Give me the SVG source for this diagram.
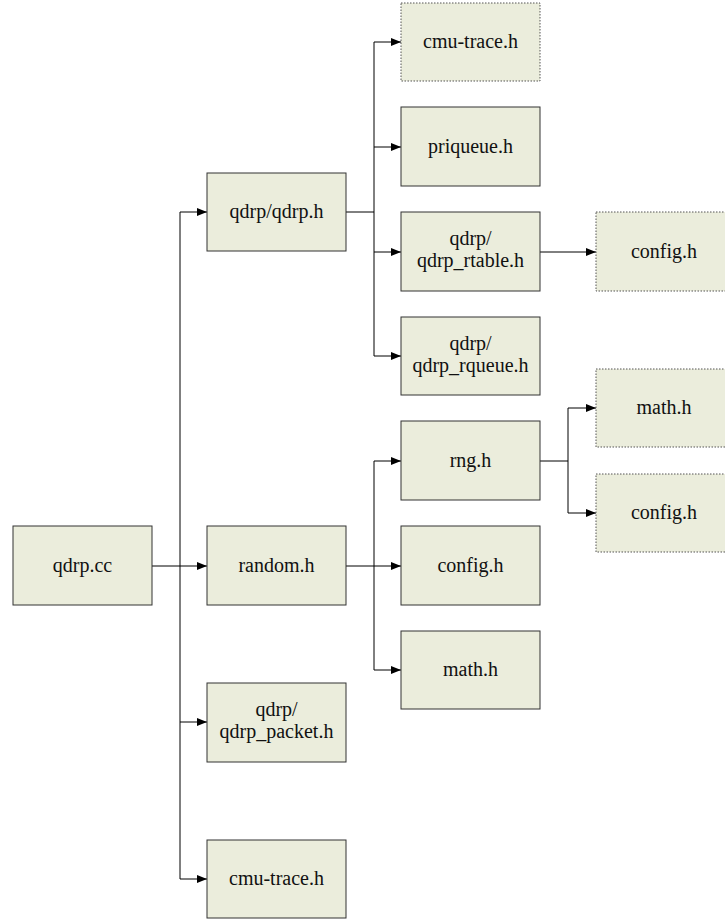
<svg xmlns="http://www.w3.org/2000/svg" width="725" height="919" viewBox="0 0 725 919">
<style>
.b{fill:#EBEDDC;stroke:#333;stroke-width:1}
.d{fill:#EBEDDC;stroke:#555;stroke-width:1;stroke-dasharray:1.5,1.5}
.t{font-family:'Liberation Serif','DejaVu Serif',serif;font-size:20px;fill:#111;text-anchor:middle}
.c{fill:none;stroke:#000;stroke-width:1}
</style>
<defs>
<marker id="a" markerWidth="10" markerHeight="8" refX="10" refY="4" orient="auto" markerUnits="userSpaceOnUse">
<path d="M0,0 L10,4 L0,8 Z" fill="#000"/>
</marker>
</defs>
<rect width="725" height="919" fill="#fff"/>
<g id="connectors">
<path class="c" d="M152,566 H207" marker-end="url(#a)"/>
<path class="c" d="M180,212 V879"/>
<path class="c" d="M180,212 H207" marker-end="url(#a)"/>
<path class="c" d="M180,722 H207" marker-end="url(#a)"/>
<path class="c" d="M180,879 H207" marker-end="url(#a)"/>
<path class="c" d="M346,212 H374"/>
<path class="c" d="M374,42 V356"/>
<path class="c" d="M374,42 H401" marker-end="url(#a)"/>
<path class="c" d="M374,147 H401" marker-end="url(#a)"/>
<path class="c" d="M374,252 H401" marker-end="url(#a)"/>
<path class="c" d="M374,356 H401" marker-end="url(#a)"/>
<path class="c" d="M346,566 H401" marker-end="url(#a)"/>
<path class="c" d="M374,461 V670"/>
<path class="c" d="M374,461 H401" marker-end="url(#a)"/>
<path class="c" d="M374,670 H401" marker-end="url(#a)"/>
<path class="c" d="M540,252 H596" marker-end="url(#a)"/>
<path class="c" d="M540,461 H568"/>
<path class="c" d="M568,408 V513"/>
<path class="c" d="M568,408 H596" marker-end="url(#a)"/>
<path class="c" d="M568,513 H596" marker-end="url(#a)"/>
</g>
<g class="t">
<g id="qdrp_cc"><rect class="b" x="13" y="526" width="139" height="79"/><text x="82.5" y="572">qdrp.cc</text></g>
<g id="qdrp_h"><rect class="b" x="207" y="173" width="139" height="78"/><text x="276.5" y="218">qdrp/qdrp.h</text></g>
<g id="random_h"><rect class="b" x="207" y="526" width="139" height="79"/><text x="276.5" y="572">random.h</text></g>
<g id="qdrp_packet_h"><rect class="b" x="207" y="683" width="139" height="79"/><text x="276.5" y="716">qdrp/</text><text x="276.5" y="738">qdrp_packet.h</text></g>
<g id="cmu_trace_h1"><rect class="b" x="207" y="840" width="139" height="78"/><text x="276.5" y="885">cmu-trace.h</text></g>
<g id="cmu_trace_h2"><rect class="d" x="401" y="3" width="139" height="78"/><text x="470.5" y="48">cmu-trace.h</text></g>
<g id="priqueue_h"><rect class="b" x="401" y="107" width="139" height="79"/><text x="470.5" y="153">priqueue.h</text></g>
<g id="qdrp_rtable_h"><rect class="b" x="401" y="212" width="139" height="79"/><text x="470.5" y="245">qdrp/</text><text x="470.5" y="267">qdrp_rtable.h</text></g>
<g id="qdrp_rqueue_h"><rect class="b" x="401" y="317" width="139" height="78"/><text x="470.5" y="350">qdrp/</text><text x="470.5" y="372">qdrp_rqueue.h</text></g>
<g id="rng_h"><rect class="b" x="401" y="421" width="139" height="79"/><text x="470.5" y="467">rng.h</text></g>
<g id="config_h1"><rect class="b" x="401" y="526" width="139" height="79"/><text x="470.5" y="572">config.h</text></g>
<g id="math_h1"><rect class="b" x="401" y="631" width="139" height="78"/><text x="470.5" y="676">math.h</text></g>
<g id="config_h2"><rect class="d" x="596" y="212" width="135" height="79"/><text x="664" y="258">config.h</text></g>
<g id="math_h2"><rect class="d" x="596" y="369" width="135" height="78"/><text x="664" y="414">math.h</text></g>
<g id="config_h3"><rect class="d" x="596" y="474" width="135" height="78"/><text x="664" y="519">config.h</text></g>
</g>
</svg>
